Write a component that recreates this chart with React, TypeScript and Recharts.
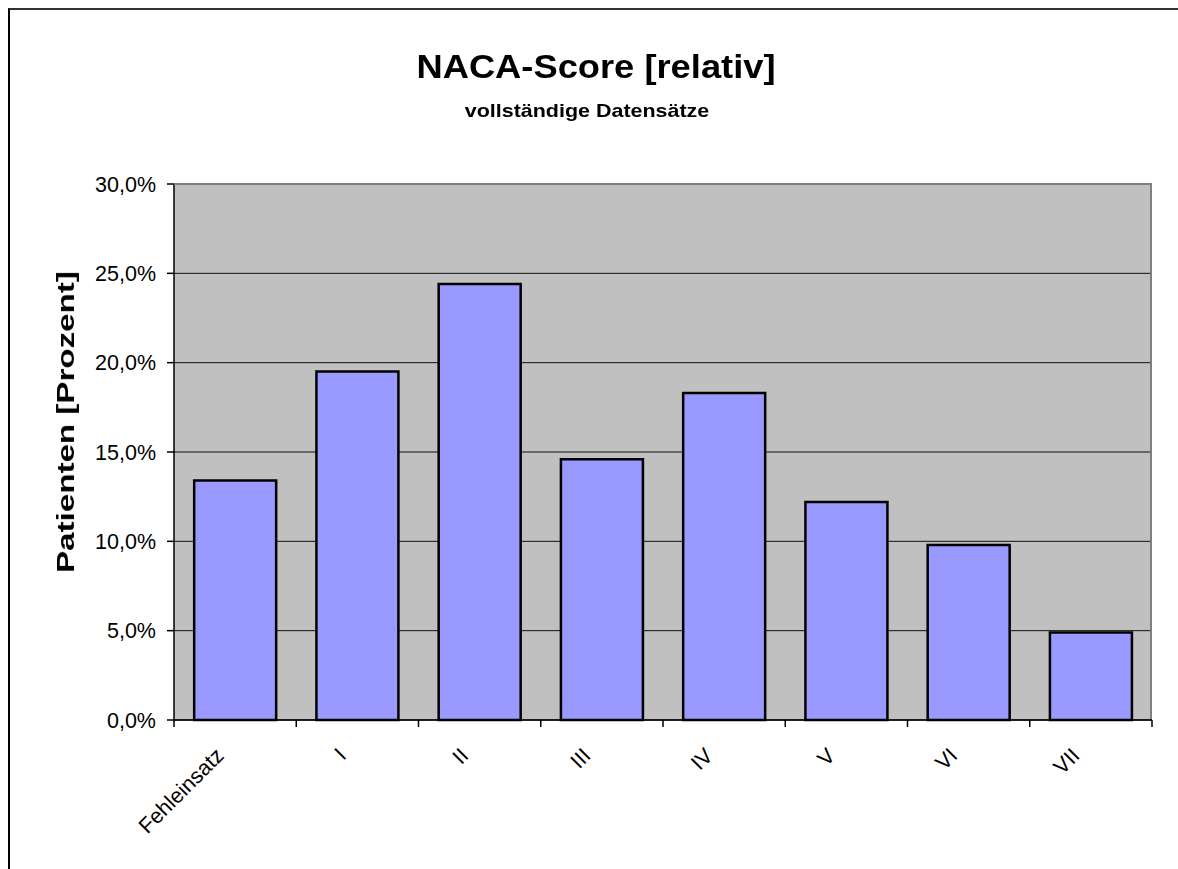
import { BarChart, Bar, XAxis, YAxis, CartesianGrid } from 'recharts'

// NACA-Score, relative share of patients (complete datasets)
const categories = ['Fehleinsatz', 'I', 'II', 'III', 'IV', 'V', 'VI', 'VII']
const shares = [13.4, 19.5, 24.4, 14.6, 18.3, 12.2, 9.8, 4.9]
const yTicks = [0, 5, 10, 15, 20, 25, 30]

const chartData = categories.map((name, i) => ({ name, value: shares[i] }))

const FONT = '"Liberation Sans", Arial, sans-serif'
const CHART_W = 1162
const CHART_H = 853
const Y_AXIS_W = 166
const MARGIN = { top: 176, right: 18, bottom: 0, left: 0 }
const BAND = (CHART_W - Y_AXIS_W - MARGIN.right) / categories.length

function formatPercent(v: number): string {
  return v.toFixed(1).replace('.', ',') + '%'
}

function XTick(props: any): React.ReactElement {
  const { x, y, payload, index } = props
  const tx = x - 10
  const ty = y + 37
  return (
    <g>
      <line x1={x - BAND / 2} x2={x - BAND / 2} y1={y} y2={y + 7} stroke="#000" strokeWidth={1.5} />
      {index === categories.length - 1 && (
        <line x1={x + BAND / 2} x2={x + BAND / 2} y1={y} y2={y + 7} stroke="#000" strokeWidth={1.5} />
      )}
      <text
        x={tx}
        y={ty}
        transform={`rotate(-45 ${tx} ${ty})`}
        textAnchor="end"
        fontSize={21.5}
        fontFamily={FONT}
        fill="#000"
      >
        {payload.value}
      </text>
    </g>
  )
}

export default function App(): React.ReactElement {
  return (
    <div style={{ position: 'relative', width: CHART_W, height: CHART_H, fontFamily: FONT }}>
      <BarChart width={CHART_W} height={CHART_H} data={chartData} margin={MARGIN} barCategoryGap="16.5%">
        <CartesianGrid vertical={false} fill="#C0C0C0" stroke="#111" strokeWidth={1} />
        <XAxis
          dataKey="name"
          height={CHART_H - 712}
          tickSize={0}
          tickMargin={0}
          axisLine={{ stroke: '#000', strokeWidth: 1.5 }}
          tickLine={false}
          interval={0}
          tick={<XTick />}
        />
        <YAxis
          width={Y_AXIS_W}
          domain={[0, 30]}
          ticks={yTicks}
          tickFormatter={formatPercent}
          tickSize={7}
          tickMargin={11}
          axisLine={{ stroke: '#000', strokeWidth: 1.5 }}
          tickLine={{ stroke: '#000', strokeWidth: 1.5 }}
          tick={{ fill: '#000', fontSize: 21.5, fontFamily: FONT }}
        />
        <Bar dataKey="value" fill="#9999FF" stroke="#000" strokeWidth={2.5} isAnimationActive={false} />
      </BarChart>

      {/* plot frame: grey top and right edge */}
      <div
        style={{
          position: 'absolute',
          left: Y_AXIS_W,
          top: MARGIN.top - 1,
          width: CHART_W - Y_AXIS_W - MARGIN.right,
          height: 712 - MARGIN.top,
          borderTop: '2px solid #808080',
          borderRight: '2px solid #808080',
          boxSizing: 'border-box',
          pointerEvents: 'none',
        }}
      />

      {/* outer chart border, runs past the window on the right and bottom */}
      <div
        style={{
          position: 'fixed',
          left: 8,
          top: 8,
          width: 1200,
          height: 900,
          borderTop: '2px solid #333',
          borderLeft: '2px solid #000',
          boxSizing: 'border-box',
          pointerEvents: 'none',
        }}
      />

      <div
        style={{
          position: 'absolute',
          left: 588,
          top: 42,
          transform: 'translateX(-50%) scaleX(1.1)',
          fontSize: 33,
          lineHeight: '33px',
          fontWeight: 'bold',
          whiteSpace: 'nowrap',
        }}
      >
        NACA-Score [relativ]
      </div>
      <div
        style={{
          position: 'absolute',
          left: 579,
          top: 93,
          transform: 'translateX(-50%) scaleX(1.13)',
          fontSize: 19,
          lineHeight: '19px',
          fontWeight: 'bold',
          whiteSpace: 'nowrap',
        }}
      >
        vollständige Datensätze
      </div>
      <div
        style={{
          position: 'absolute',
          left: 58,
          top: 414,
          transform: 'translate(-50%, -50%) rotate(-90deg) scaleX(1.38)',
          fontSize: 24,
          lineHeight: '24px',
          fontWeight: 'bold',
          whiteSpace: 'nowrap',
        }}
      >
        Patienten [Prozent]
      </div>
    </div>
  )
}
